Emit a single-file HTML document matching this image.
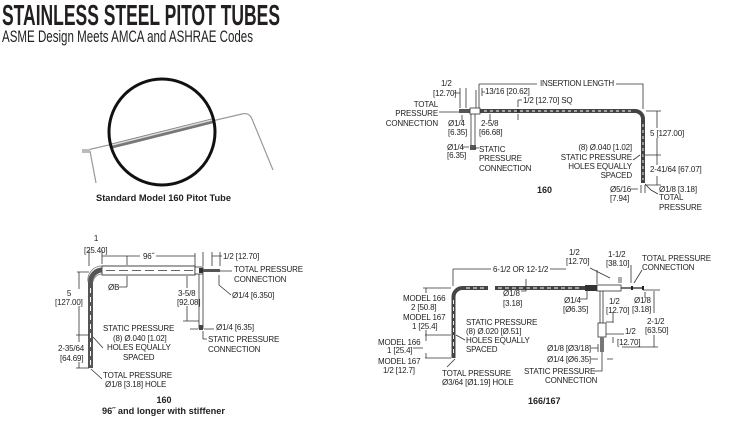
<!DOCTYPE html>
<html><head><meta charset="utf-8">
<style>
html,body{margin:0;padding:0;background:#fff;}
svg{display:block;}
text{font-family:"Liberation Sans",Arial,sans-serif;font-size:8px;letter-spacing:-0.15px;fill:#222;}
.b{font-weight:bold;font-size:9px;letter-spacing:0;}
.l{stroke:#333;stroke-width:0.8;fill:none;}
.e{text-anchor:end;}
.m{text-anchor:middle;}
</style></head>
<body>
<svg width="735" height="424" viewBox="0 0 735 424" xmlns="http://www.w3.org/2000/svg">
<rect width="735" height="424" fill="#fff"/>
<defs>
<linearGradient id="tg" x1="0" y1="0" x2="0" y2="1">
<stop offset="0" stop-color="#ddd"/><stop offset="0.4" stop-color="#fff"/><stop offset="1" stop-color="#666"/>
</linearGradient>
</defs>

<!-- Title -->
<text x="2" y="25" style="font-size:29px;font-weight:bold;letter-spacing:0;fill:#231f20" textLength="278" lengthAdjust="spacingAndGlyphs">STAINLESS STEEL PITOT TUBES</text>
<text x="2" y="42" style="font-size:16.5px;letter-spacing:0;fill:#231f20" textLength="251" lengthAdjust="spacingAndGlyphs">ASME Design Meets AMCA and ASHRAE Codes</text>

<!-- Photo -->
<path d="M83 151 L242 114 Q249 112 252 119 L273 170" fill="none" stroke="#9a9a9a" stroke-width="1.2"/>
<path d="M90 151 L96 183" fill="none" stroke="#9a9a9a" stroke-width="1.2"/>
<rect x="82" y="149" width="8" height="4" fill="#bbb"/>
<path d="M112 146 L212 121" stroke="#777" stroke-width="5" stroke-linecap="round"/>
<path d="M112 145 L212 120" stroke="#ddd" stroke-width="1.5"/>
<circle cx="162" cy="132" r="53" fill="none" stroke="#111" stroke-width="3"/>
<text x="96" y="201" class="b" style="font-size:9.5px" textLength="135" lengthAdjust="spacingAndGlyphs">Standard Model 160 Pitot Tube</text>

<!-- ===== Top right: 160 ===== -->
<!-- tube -->
<path d="M480 111 H635 A8 8 0 0 1 643 119 V183" fill="none" stroke="#444" stroke-width="4"/>
<path d="M484 111 H633" fill="none" stroke="#fff" stroke-width="0.9" stroke-dasharray="3 3"/>
<path d="M643 124 V180" fill="none" stroke="#fff" stroke-width="0.9" stroke-dasharray="3 3"/>
<rect x="459" y="109" width="11" height="4" fill="#555"/>
<rect x="470" y="108" width="10" height="6" fill="#fff" stroke="#333" stroke-width="0.8"/>
<line x1="518" y1="109" x2="518" y2="113" stroke="#222" stroke-width="1.2"/>
<!-- static vertical -->
<line class="l" x1="471" y1="114" x2="471" y2="150"/>
<line class="l" x1="475" y1="114" x2="475" y2="150"/>
<rect x="470" y="145" width="6" height="5" fill="#555"/>
<!-- dims -->
<path class="l" d="M479 84 H537 M616 84 H643 V109 M479 84 V108 M476 90 V108"/>
<path class="l" d="M460 88 V108 M466 88 V108 M454 93 H460 M482 88 V96 M482 92 H485"/>
<path class="l" d="M518 100 H522 M518 100 V107 M518 114 V120"/>
<path class="l" d="M439 112 H459"/>
<path class="l" d="M462 115 V121 M490 114 V121"/>
<path class="l" d="M462 147 H469 M474 148 H479"/>
<path class="l" d="M646 111 H661 M657 111 V128 M657 138 V165 M643 155 H661 M657 176 V185 M645 185 H661"/>
<path class="l" d="M633 160 L640 155"/>
<path class="l" d="M631 189 H638 M641 185 V193 M645 185 V193"/>
<path class="l" d="M645 184 L651 190 L658 194"/>
<!-- labels -->
<text x="441" y="86">1/2</text>
<text x="433" y="96">[12.70]</text>
<text x="485" y="94">13/16 [20.62]</text>
<text x="540" y="86" textLength="74">INSERTION LENGTH</text>
<text x="523" y="103">1/2 [12.70] SQ</text>
<text x="438" y="107" class="e">TOTAL</text>
<text x="438" y="116" class="e">PRESSURE</text>
<text x="438" y="126" class="e">CONNECTION</text>
<text x="448" y="126">Ø1/4</text>
<text x="448" y="135">[6.35]</text>
<text x="481" y="126">2-5/8</text>
<text x="479" y="135">[66.68]</text>
<text x="447" y="150">Ø1/4</text>
<text x="447" y="158">[6.35]</text>
<text x="479" y="152">STATIC</text>
<text x="479" y="161">PRESSURE</text>
<text x="479" y="171">CONNECTION</text>
<text x="537" y="193" class="b">160</text>
<text x="650" y="136">5 [127.00]</text>
<text x="632" y="150" class="e">(8) Ø.040 [1.02]</text>
<text x="632" y="160" class="e">STATIC PRESSURE</text>
<text x="632" y="169" class="e">HOLES EQUALLY</text>
<text x="632" y="178" class="e">SPACED</text>
<text x="650" y="172">2-41/64 [67.07]</text>
<text x="610" y="192">Ø5/16</text>
<text x="610" y="201">[7.94]</text>
<text x="659" y="192">Ø1/8 [3.18]</text>
<text x="659" y="200">TOTAL</text>
<text x="659" y="210">PRESSURE</text>

<!-- ===== Bottom left: 160 96" ===== -->
<rect x="102" y="266" width="93" height="9" fill="#fff" stroke="#333" stroke-width="0.9"/>
<line x1="106" y1="270.5" x2="193" y2="270.5" stroke="#333" stroke-width="0.8" stroke-dasharray="9 4"/>
<path d="M90.5 368 V282 A12 12 0 0 1 102.5 270" fill="none" stroke="#555" stroke-width="5"/>
<path d="M88 282 A14 14 0 0 1 102 266" fill="none" stroke="#777" stroke-width="0.8"/>
<path d="M93 282 A9 9 0 0 1 102 274" fill="none" stroke="#777" stroke-width="0.8"/>
<path d="M90.5 288 V366" fill="none" stroke="#fff" stroke-width="1" stroke-dasharray="5 4"/>
<rect x="195" y="267" width="8" height="7" fill="#fff" stroke="#333" stroke-width="0.8"/>
<rect x="199" y="268" width="4" height="5" fill="#333"/>
<rect x="203" y="269" width="17" height="3" fill="#555"/>
<line class="l" x1="199" y1="274" x2="199" y2="329"/>
<line class="l" x1="203" y1="274" x2="203" y2="329"/>
<rect x="199" y="325" width="4" height="5" fill="#444"/>
<!-- dims -->
<path class="l" d="M89 250 V266 M102 250 V264 M102 256 H140 M156 256 H195 M195 253 V266 M203 252 V266 M212 252 V266 M220 252 V266 M212 256 H222"/>
<path class="l" d="M127 256 V265 M127 276 V287 M119 287 H127"/>
<path class="l" d="M77 272 H89 M79 272 V289 M79 306 V342 M76 335 H89 M79 362 V368 M76 368 H89"/>
<path class="l" d="M93 337 L103 348 M91 369 L102 379"/>
<path class="l" d="M220 271 H232 M219 275 V285 L231 295"/>
<path class="l" d="M187 276 V288 M187 306 V321 M183 321 H199"/>
<path class="l" d="M190 329 H198 M204 329 H214 M203 331 V339 H207"/>
<!-- labels -->
<text x="96" y="241" class="m">1</text>
<text x="84" y="253">[25.40]</text>
<text x="143" y="259">96˝</text>
<text x="223" y="259">1/2 [12.70]</text>
<text x="108" y="290">ØB</text>
<text x="69" y="296" class="m">5</text>
<text x="55" y="305">[127.00]</text>
<text x="58" y="351">2-35/64</text>
<text x="60" y="361">[64.69]</text>
<text x="103" y="331">STATIC PRESSURE</text>
<text x="113" y="341">(8) Ø.040 [1.02]</text>
<text x="107" y="350">HOLES EQUALLY</text>
<text x="123" y="360">SPACED</text>
<text x="103" y="378">TOTAL PRESSURE</text>
<text x="105" y="387">Ø1/8 [3.18] HOLE</text>
<text x="164" y="403" class="b m">160</text>
<text x="102" y="414" class="b" textLength="123" lengthAdjust="spacingAndGlyphs">96˝ and longer with stiffener</text>
<text x="234" y="272">TOTAL PRESSURE</text>
<text x="234" y="282">CONNECTION</text>
<text x="232" y="298">Ø1/4 [6.350]</text>
<text x="178" y="296">3-5/8</text>
<text x="177" y="305">[92.08]</text>
<text x="216" y="330">Ø1/4 [6.35]</text>
<text x="208" y="342">STATIC PRESSURE</text>
<text x="208" y="352">CONNECTION</text>

<!-- ===== Bottom right: 166/167 ===== -->
<path d="M453.5 358 V297 A9 9 0 0 1 462.5 288 H488 M495 288 H586" fill="none" stroke="#444" stroke-width="4"/>
<path d="M453.5 300 V355 M466 288 H486 M498 288 H582" fill="none" stroke="#fff" stroke-width="0.9" stroke-dasharray="4 3"/>
<rect x="585" y="285" width="12" height="6" fill="#333"/>
<rect x="597" y="285" width="24" height="6" fill="#fff" stroke="#333" stroke-width="0.8"/>
<line x1="621" y1="288" x2="643" y2="288" stroke="#444" stroke-width="1.5"/>
<rect x="631" y="286" width="2" height="4" fill="#222"/>
<rect x="642" y="286" width="2" height="4" fill="#222"/>
<line class="l" x1="600" y1="291" x2="600" y2="323"/>
<line class="l" x1="603" y1="291" x2="603" y2="323"/>
<rect x="598" y="323" width="8" height="14" fill="#fff" stroke="#333" stroke-width="0.8"/>
<rect x="600" y="337" width="4" height="15" fill="#777"/>
<!-- dims -->
<path class="l" d="M453 269 H491 M550 269 H566 M453 269 V286"/>
<path class="l" d="M526 279 V291 H521"/>
<path class="l" d="M423 288 H451 M425 335 H451 M425 358 H451 M426 288 V293 M426 330 V341 M426 353 V358 M413 348 H423"/>
<path class="l" d="M456 335 L465 340 M455 359 L447 367"/>
<path class="l" d="M590 268 L610 278 M619 277 V283 M597 270 V284 M631 265 V283 M621 277 V283"/>
<path class="l" d="M642 270 L634 283"/>
<path class="l" d="M580 299 H587 V291"/>
<path class="l" d="M613 312 V323 M606 322 H613"/>
<path class="l" d="M645 292 V298 M643 290 H660 M654 291 V313 M654 335 V347 M622 347 H658"/>
<path class="l" d="M606 334 H624 M613 337 V343"/>
<path class="l" d="M591 348 H598 M598 344 V352 M591 359 H598 M607 359 H613"/>
<path class="l" d="M593 371 H602 V352"/>
<!-- labels -->
<text x="493" y="272">6-1/2 OR 12-1/2</text>
<text x="569" y="255">1/2</text>
<text x="566" y="264">[12.70]</text>
<text x="608" y="257">1-1/2</text>
<text x="606" y="266">[38.10]</text>
<text x="642" y="261">TOTAL PRESSURE</text>
<text x="642" y="270">CONNECTION</text>
<text x="503" y="296">Ø1/8</text>
<text x="503" y="306">[3.18]</text>
<text x="403" y="301">MODEL 166</text>
<text x="411" y="310">2 [50.8]</text>
<text x="403" y="320">MODEL 167</text>
<text x="412" y="329">1 [25.4]</text>
<text x="466" y="325">STATIC PRESSURE</text>
<text x="466" y="334">(8) Ø.020 [Ø.51]</text>
<text x="466" y="343">HOLES EQUALLY</text>
<text x="466" y="352">SPACED</text>
<text x="378" y="345">MODEL 166</text>
<text x="387" y="353">1 [25.4]</text>
<text x="378" y="364">MODEL 167</text>
<text x="383" y="373">1/2 [12.7]</text>
<text x="442" y="376">TOTAL PRESSURE</text>
<text x="442" y="385">Ø3/64 [Ø1.19] HOLE</text>
<text x="564" y="303">Ø1/4</text>
<text x="563" y="312">[Ø6.35]</text>
<text x="609" y="304">1/2</text>
<text x="606" y="313">[12.70]</text>
<text x="634" y="303">Ø1/8</text>
<text x="632" y="312">[3.18]</text>
<text x="647" y="324">2-1/2</text>
<text x="645" y="333">[63.50]</text>
<text x="625" y="334">1/2</text>
<text x="617" y="345">[12.70]</text>
<text x="547" y="351">Ø1/8 [Ø3/18]</text>
<text x="547" y="362">Ø1/4 [Ø6.35]</text>
<text x="524" y="374">STATIC PRESSURE</text>
<text x="545" y="383">CONNECTION</text>
<text x="528" y="404" class="b">166/167</text>
</svg>
</body></html>
